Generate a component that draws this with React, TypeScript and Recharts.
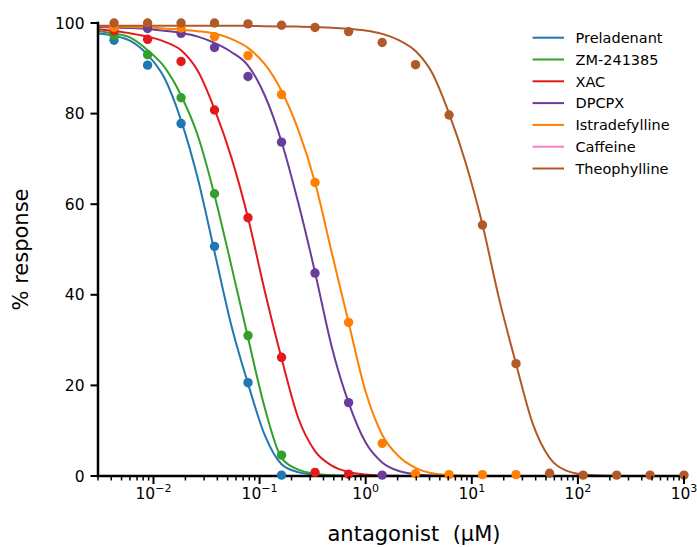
import React from 'react';
import { ComposedChart, Line, Scatter, XAxis, YAxis, Legend } from 'recharts';

// Antagonist concentrations (µM) where responses were measured
const doses = [0.00425, 0.0088, 0.0182, 0.0376, 0.0778, 0.161, 0.333, 0.69, 1.43, 2.95, 6.11, 12.6, 26.1, 54.1, 112, 232, 479, 1000];

// Measured % response (null = no visible point)
const preladenantDots = [96.2, 90.7, 77.8, 50.7, 20.6, 0.2];
const zm241385Dots = [97.2, 93.0, 83.5, 62.3, 31.0, 4.6];
const xacDots = [98.3, 96.4, 91.5, 80.8, 57.0, 26.2, 0.8, 0.4];
const dpcpxDots = [null, 98.8, 97.7, 94.6, 88.2, 73.7, 44.8, 16.2, 0.2];
const istradefyllineDots = [99.0, null, 98.9, 97.0, 92.8, 84.2, 64.8, 33.9, 7.2, 0.5, 0.3, 0.3, 0.3];
const theophyllineDots = [100, 100, 100, 100, 99.8, 99.5, 99.0, 98.1, 95.7, 90.8, 79.7, 55.4, 24.8, 0.6, 0.2, 0.2, 0.2, 0.2];

// Fitted curves at these concentrations
const curveDoses = [0.003, 0.00425, 0.00612, 0.0088, 0.01266, 0.0182, 0.0262, 0.0376, 0.0541, 0.0778, 0.112, 0.161, 0.2316, 0.333, 0.479, 0.69, 0.993, 1.43, 2.054, 2.95, 4.245, 6.11, 8.77, 12.6, 18.1, 26.1, 37.6, 54.1, 77.8, 112, 161, 232, 333, 479, 689, 1000];
const preladenantCurve = [97.7, 97.2, 96.0, 93.0, 87.9, 78.5, 65.6, 49.5, 33.3, 20.4, 9.0, 2.6, 0.85, 0.3, 0.1, 0.03];
const zm241385Curve = [98.2, 97.7, 96.7, 94.0, 90.3, 84.0, 75.1, 62.0, 46.5, 30.5, 15.0, 4.0, 1.4, 0.5, 0.15, 0.04];
const xacCurve = [98.6, 98.2, 97.7, 97.0, 95.9, 94.0, 89.4, 81.0, 70.4, 57.0, 40.8, 26.0, 12.8, 5.5, 2.3, 0.9, 0.35, 0.12, 0.04];
const dpcpxCurve = [99.1, 99.0, 98.9, 98.7, 98.3, 97.8, 97.0, 95.6, 93.6, 90.6, 84.0, 73.8, 60.3, 45.0, 28.5, 16.2, 7.5, 3.0, 1.1, 0.4, 0.12, 0.04];
const istradefyllineCurve = [99.3, 99.2, 99.1, 99.0, 98.8, 98.5, 98.2, 97.7, 96.5, 94.5, 90.9, 85.0, 76.4, 64.8, 49.3, 33.9, 18.8, 9.1, 4.3, 1.8, 0.6, 0.2, 0.06];
const theophyllineCurve = [99.4, 99.4, 99.4, 99.4, 99.4, 99.4, 99.4, 99.4, 99.4, 99.35, 99.3, 99.25, 99.2, 99.1, 98.95, 98.75, 98.35, 97.6, 96.2, 93.8, 88.9, 80.0, 69.1, 55.5, 39.1, 24.8, 11.5, 4.0, 1.2, 0.35, 0.1, 0.03];

const seriesNames = ['Preladenant', 'ZM-241385', 'XAC', 'DPCPX', 'Istradefylline', 'Caffeine', 'Theophylline'];
const seriesColors = ['#1f78b4', '#33a02c', '#e31a1c', '#6a3d9a', '#ff7f00', '#f781bf', '#b15928'];

const majorTicks = [0.01, 0.1, 1, 10, 100, 1000];
const majorTickExponents = ['\u22122', '\u22121', '0', '1', '2', '3'];
const minorTicks = [
  0.003, 0.004, 0.005, 0.006, 0.007, 0.008, 0.009,
  0.02, 0.03, 0.04, 0.05, 0.06, 0.07, 0.08, 0.09,
  0.2, 0.3, 0.4, 0.5, 0.6, 0.7, 0.8, 0.9,
  2, 3, 4, 5, 6, 7, 8, 9,
  20, 30, 40, 50, 60, 70, 80, 90,
  200, 300, 400, 500, 600, 700, 800, 900,
];
const yTicks = [0, 20, 40, 60, 80, 100];

const FONT = 'DejaVu Sans, Liberation Sans, sans-serif';

type Pt = { x: number; y: number };
const toPoints = (xs: number[], ys: (number | null)[]): Pt[] =>
  ys.map((y, i) => ({ x: xs[i], y })).filter((p) => p.y !== null) as Pt[];

const compounds = [
  { name: seriesNames[0], color: seriesColors[0], curve: preladenantCurve, dots: preladenantDots },
  { name: seriesNames[1], color: seriesColors[1], curve: zm241385Curve, dots: zm241385Dots },
  { name: seriesNames[2], color: seriesColors[2], curve: xacCurve, dots: xacDots },
  { name: seriesNames[3], color: seriesColors[3], curve: dpcpxCurve, dots: dpcpxDots },
  { name: seriesNames[4], color: seriesColors[4], curve: istradefyllineCurve, dots: istradefyllineDots },
  { name: seriesNames[6], color: seriesColors[6], curve: theophyllineCurve, dots: theophyllineDots },
];

const XTick = (props: any) => {
  const { x, y, payload } = props;
  const idx = majorTicks.indexOf(payload.value);
  if (idx < 0) {
    return <line x1={x} x2={x} y1={y} y2={y + 4.5} stroke="#000" strokeWidth={1.5} />;
  }
  return (
    <g>
      <line x1={x} x2={x} y1={y} y2={y + 8} stroke="#000" strokeWidth={2} />
      <text x={x} y={y + 23} textAnchor="middle" fontFamily={FONT} fontSize={15.5} fill="#000">
        10<tspan dy={-7} fontSize={11}>{majorTickExponents[idx]}</tspan>
      </text>
    </g>
  );
};

const XLabel = () => (
  <text x={414} y={540.5} textAnchor="middle" fontFamily={FONT} fontSize={21} fill="#000" style={{ whiteSpace: 'pre' }}>
    {'antagonist  (\u00b5M)'}
  </text>
);

const YLabel = () => (
  <text x={27.5} y={249.5} transform="rotate(-90, 27.5, 249.5)" textAnchor="middle" fontFamily={FONT} fontSize={21} fill="#000">
    % response
  </text>
);

const LegendBox = () => (
  <svg width={697} height={547} style={{ position: 'absolute', left: 0, top: 0, pointerEvents: 'none' }}>
    {seriesNames.map((n, i) => {
      const cy = 37.7 + i * 21.8;
      return (
        <g key={n}>
          <line x1={532.5} x2={564} y1={cy} y2={cy} stroke={seriesColors[i]} strokeWidth={2} />
          <text x={575.5} y={cy + 5.3} fontFamily={FONT} fontSize={14.5} fill="#000">{n}</text>
        </g>
      );
    })}
  </svg>
);

const makeDot = (color: string) => (props: any) => (
  <circle cx={props.cx} cy={props.cy} r={4.7} fill={color} />
);

export default function App() {
  return (
    <div style={{ position: 'absolute', left: 0, top: 0, width: 697, height: 547, background: '#fff' }}>
      <ComposedChart width={697} height={547} margin={{ top: 23, right: 13, left: 0, bottom: 0 }}>
        {compounds.map((c) => (
          <Line
            key={c.name + '-curve'}
            data={toPoints(curveDoses, c.curve)}
            dataKey="y"
            type="monotone"
            stroke={c.color}
            strokeWidth={2}
            dot={false}
            activeDot={false}
            isAnimationActive={false}
            legendType="none"
          />
        ))}
        {compounds.map((c) => (
          <Scatter
            key={c.name + '-dots'}
            data={toPoints(doses, c.dots)}
            fill={c.color}
            shape={makeDot(c.color)}
            isAnimationActive={false}
            legendType="none"
          />
        ))}
        <XAxis
          type="number"
          dataKey="x"
          scale="log"
          domain={[0.003, 1000]}
          ticks={[...majorTicks, ...minorTicks]}
          interval={0}
          tick={<XTick />}
          tickLine={false}
          tickSize={0}
          tickMargin={0}
          height={71}
          axisLine={{ stroke: '#000', strokeWidth: 2.5, strokeLinecap: 'square' }}
          label={<XLabel />}
        />
        <YAxis
          type="number"
          dataKey="y"
          domain={[0, 100]}
          ticks={yTicks}
          interval={0}
          width={98}
          tickSize={7.5}
          tickMargin={6}
          tick={{ fill: '#000', fontSize: 15.5, fontFamily: FONT }}
          tickLine={{ stroke: '#000', strokeWidth: 2 }}
          axisLine={{ stroke: '#000', strokeWidth: 2.5, strokeLinecap: 'square' }}
          label={<YLabel />}
        />
        <Legend
          layout="vertical"
          align="center"
          verticalAlign="middle"
          wrapperStyle={{ left: 0, top: 0, width: 697, height: 547, pointerEvents: 'none' }}
          content={() => <LegendBox />}
        />
      </ComposedChart>
    </div>
  );
}
